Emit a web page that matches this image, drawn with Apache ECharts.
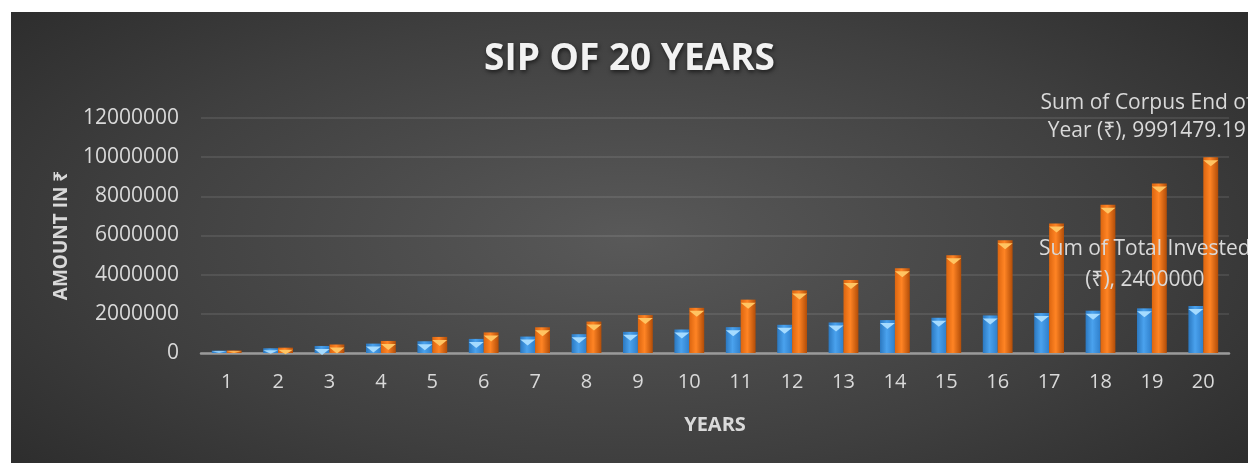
<!DOCTYPE html>
<html>
<head>
<meta charset="utf-8">
<script src="https://cdn.jsdelivr.net/npm/echarts@6/dist/echarts.min.js"></script>
<style>
    html, body { margin: 0; padding: 0; background: #fff; }
    #main {
        position: absolute; left: 11px; top: 12px; width: 1237px; height: 451px;
        background: radial-gradient(ellipse 75% 90% at 50% 50%, #595959 0%, #3f3f3f 55%, #262626 100%);
    }
</style>
</head>
<body>
<div id="main"></div>
<script>
// 年份
var years = ['1', '2', '3', '4', '5', '6', '7', '8', '9', '10', '11', '12', '13', '14', '15', '16', '17', '18', '19', '20'];
// 累计投入
var totalInvested = [120000, 240000, 360000, 480000, 600000, 720000, 840000, 960000, 1080000, 1200000,
    1320000, 1440000, 1560000, 1680000, 1800000, 1920000, 2040000, 2160000, 2280000, 2400000];
// 年末本息
var corpus = [128000, 272000, 434000, 616000, 821000, 1052000, 1313000, 1605000, 1935000, 2306000,
    2725000, 3196000, 3727000, 4324000, 4997000, 5755000, 6609000, 7571000, 8654000, 9991479.19];
var yTicks = [0, 2000000, 4000000, 6000000, 8000000, 10000000, 12000000];

var font = "'Open Sans', 'Noto Sans', 'DejaVu Sans', sans-serif";
var labelColor = '#d9d9d9';
var catGap = '42%';
var gridTop = 106, gridBottom = 110, chartH = 451;
var pxPerUnit = (chartH - gridTop - gridBottom) / yTicks[yTicks.length - 1];

function barGrad(c1, c2, c3) {
    return new echarts.graphic.LinearGradient(0, 0, 1, 0, [
        { offset: 0, color: c1 },
        { offset: 0.45, color: c2 },
        { offset: 1, color: c3 }
    ]);
}
// 柱顶三角高度，不超过柱子本身
function capSize(v) {
    return ['100%', Math.max(0.5, Math.min(6, v * pxPerUnit - 1))];
}

var chart = echarts.init(document.getElementById('main'), null, { renderer: 'canvas' });

var lastIdx = years.length - 1;
var investedData = totalInvested.map(function(v, i) {
    if (i !== lastIdx) return v;
    return {
        value: v,
        label: {
            show: true, position: 'top', offset: [-51, -5],
            formatter: 'Sum of Total Invested\n(₹), ' + v,
            color: labelColor, fontFamily: font, fontSize: 21, lineHeight: 31
        }
    };
});
var corpusData = corpus.map(function(v, i) {
    if (i !== lastIdx) return v;
    return {
        value: v,
        label: {
            show: true, position: 'top', offset: [-64, -7],
            formatter: 'Sum of Corpus End of\nYear (₹), ' + v,
            color: labelColor, fontFamily: font, fontSize: 21, lineHeight: 28
        }
    };
});

var option = {
    backgroundColor: 'transparent',
    animation: false,
    title: {
        text: 'SIP OF 20 YEARS',
        left: 'center',
        top: 24,
        textStyle: {
            color: '#f2f2f2', fontFamily: font, fontWeight: 'bold', fontSize: 37,
            textShadowColor: 'rgba(0,0,0,0.6)', textShadowBlur: 4, textShadowOffsetX: 1, textShadowOffsetY: 2
        }
    },
    grid: { left: 190, right: 19, top: gridTop, bottom: gridBottom, containLabel: false },
    xAxis: {
        type: 'category',
        data: years,
        name: 'YEARS',
        nameLocation: 'middle',
        nameGap: 62,
        nameTextStyle: { color: labelColor, fontFamily: font, fontWeight: 'bold', fontSize: 20 },
        axisLine: { lineStyle: { color: '#9a9a9a', width: 2.5 } },
        axisTick: { show: false },
        axisLabel: { color: labelColor, fontFamily: font, fontSize: 20, margin: 19 }
    },
    yAxis: {
        type: 'value',
        min: yTicks[0],
        max: yTicks[yTicks.length - 1],
        interval: yTicks[1] - yTicks[0],
        name: 'AMOUNT IN ₹',
        nameLocation: 'middle',
        nameGap: 130,
        nameTextStyle: { color: labelColor, fontFamily: font, fontWeight: 'bold', fontSize: 19 },
        axisLine: { show: false },
        axisTick: { show: false },
        axisLabel: {
            color: labelColor, fontFamily: font, fontSize: 21, margin: 22,
            formatter: function(v) { return String(v); }
        },
        splitLine: { lineStyle: { color: 'rgba(255,255,255,0.12)', width: 1.5 } }
    },
    series: [{
        name: 'Sum of Total Invested (₹)',
        type: 'bar',
        data: investedData,
        barGap: '0%',
        barCategoryGap: catGap,
        itemStyle: { color: barGrad('#2b78c0', '#4aa2ee', '#2f7fcb') }
    }, {
        name: 'Sum of Corpus End of Year (₹)',
        type: 'bar',
        data: corpusData,
        barGap: '0%',
        barCategoryGap: catGap,
        itemStyle: { color: barGrad('#dc650f', '#ff8424', '#b24d08') }
    }, {
        type: 'pictorialBar',
        data: totalInvested,
        barGap: '0%',
        barCategoryGap: catGap,
        symbol: 'triangle',
        symbolRotate: 180,
        symbolSize: capSize,
        symbolPosition: 'end',
        symbolOffset: [0, '50%'],
        itemStyle: { color: '#a5dbff' },
        z: 3,
        silent: true
    }, {
        type: 'pictorialBar',
        data: corpus,
        barGap: '0%',
        barCategoryGap: catGap,
        symbol: 'triangle',
        symbolRotate: 180,
        symbolSize: capSize,
        symbolPosition: 'end',
        symbolOffset: [0, '50%'],
        itemStyle: { color: '#ffc462' },
        z: 3,
        silent: true
    }]
};

chart.setOption(option);
</script>
</body>
</html>
